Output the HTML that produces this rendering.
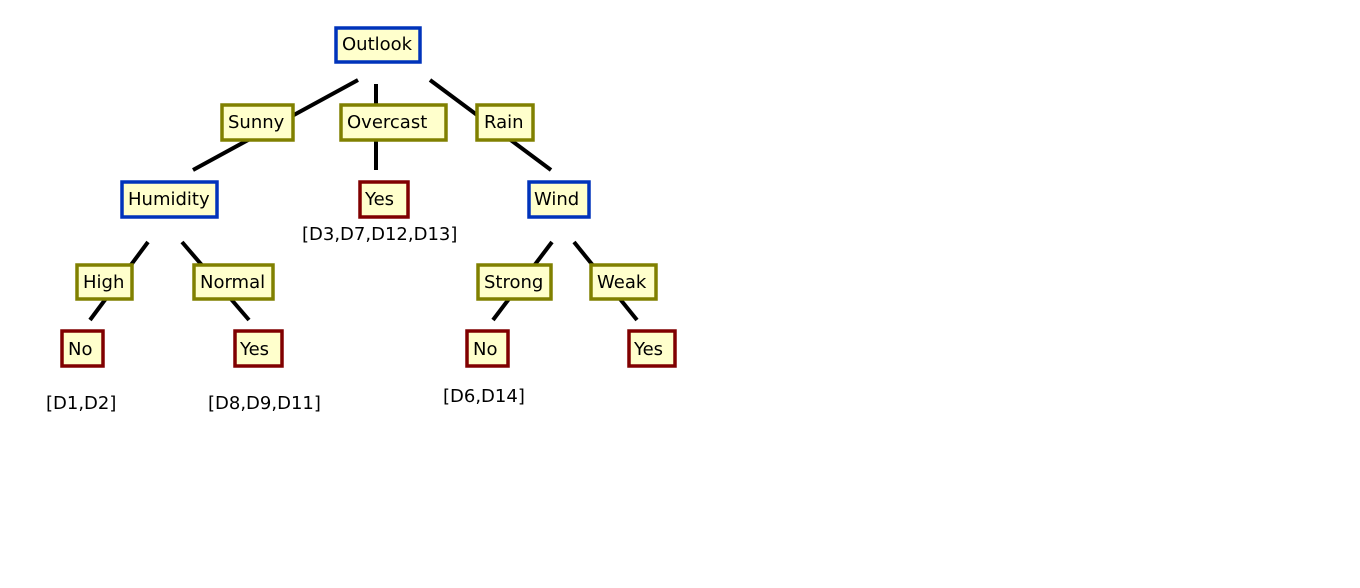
<!DOCTYPE html>
<html><head><meta charset="utf-8"><style>
html,body{margin:0;padding:0;background:#fff;}
svg{display:block}
text{font-family:"DejaVu Sans","Liberation Sans",sans-serif;font-size:18px;fill:#000}
</style></head><body>
<svg width="1360" height="588" viewBox="0 0 1360 588" xmlns="http://www.w3.org/2000/svg">
<g stroke="#000" stroke-width="4" stroke-linecap="butt">
<line x1="358" y1="80" x2="193" y2="170"/>
<line x1="376" y1="84" x2="376" y2="170"/>
<line x1="430" y1="80" x2="551" y2="170"/>
<line x1="148" y1="242" x2="90" y2="320"/>
<line x1="182" y1="242" x2="249" y2="320"/>
<line x1="552" y1="242" x2="493" y2="320"/>
<line x1="574" y1="242" x2="637" y2="320"/>
</g>
<g fill="#ffffcc" stroke-width="3.5">
<rect x="336" y="28" width="84" height="34" stroke="#0033bb"/>
<rect x="222" y="105" width="71" height="35" stroke="#808000"/>
<rect x="341" y="105" width="105" height="35" stroke="#808000"/>
<rect x="477" y="105" width="56" height="35" stroke="#808000"/>
<rect x="122" y="182" width="95" height="35" stroke="#0033bb"/>
<rect x="360" y="182" width="48" height="35" stroke="#800000"/>
<rect x="529" y="182" width="60" height="35" stroke="#0033bb"/>
<rect x="77" y="265" width="55" height="34" stroke="#808000"/>
<rect x="194" y="265" width="79" height="34" stroke="#808000"/>
<rect x="62" y="331" width="41" height="35" stroke="#800000"/>
<rect x="235" y="331" width="47" height="35" stroke="#800000"/>
<rect x="478" y="265" width="73" height="34" stroke="#808000"/>
<rect x="591" y="265" width="65" height="34" stroke="#808000"/>
<rect x="467" y="331" width="41" height="35" stroke="#800000"/>
<rect x="629" y="331" width="46" height="35" stroke="#800000"/>
</g>
<g>
<text x="342" y="50">Outlook</text>
<text x="228" y="128">Sunny</text>
<text x="347" y="128">Overcast</text>
<text x="484" y="128">Rain</text>
<text x="128" y="205">Humidity</text>
<text x="365" y="205">Yes</text>
<text x="534" y="205">Wind</text>
<text x="83" y="288">High</text>
<text x="200" y="288">Normal</text>
<text x="68" y="355">No</text>
<text x="240" y="355">Yes</text>
<text x="484" y="288">Strong</text>
<text x="597" y="288">Weak</text>
<text x="473" y="355">No</text>
<text x="634" y="355">Yes</text>
<text x="302" y="240">[D3,D7,D12,D13]</text>
<text x="46" y="409">[D1,D2]</text>
<text x="208" y="409">[D8,D9,D11]</text>
<text x="443" y="402">[D6,D14]</text>
</g>
</svg>
</body></html>
